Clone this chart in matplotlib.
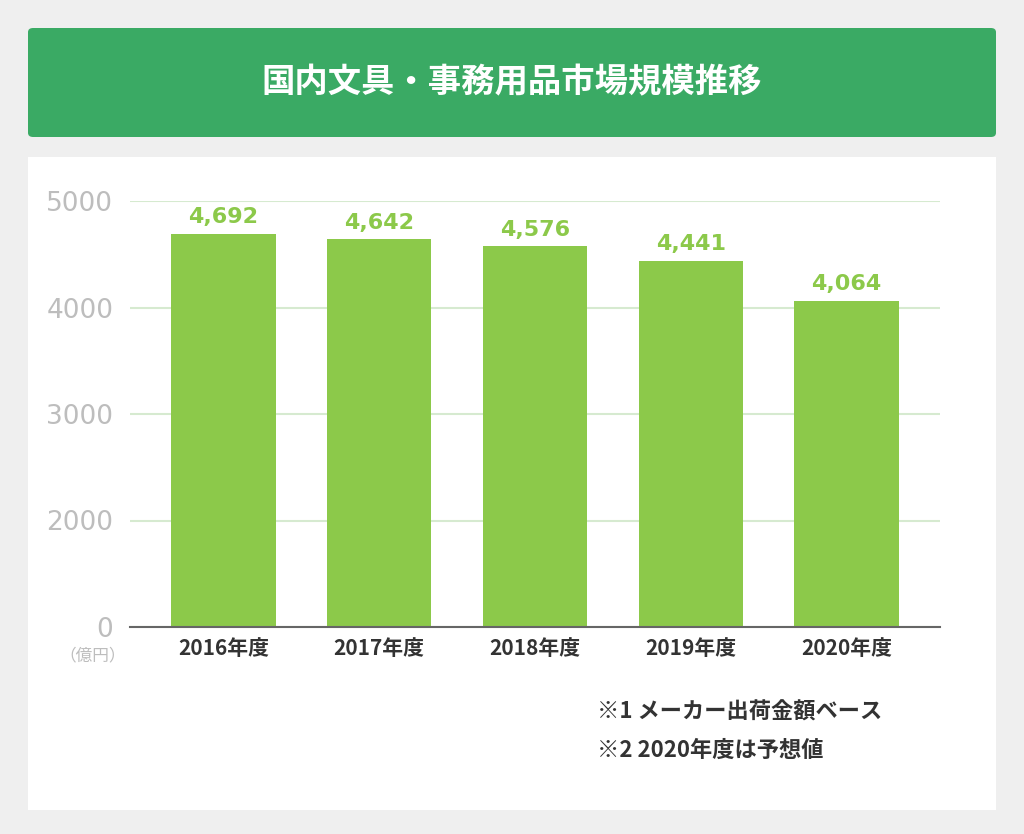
import matplotlib
matplotlib.use("Agg")
import matplotlib.pyplot as plt
from matplotlib.patches import FancyBboxPatch, Rectangle

plt.rcParams["font.family"] = ["Noto Sans CJK JP", "DejaVu Sans"]

title = "国内文具・事務用品市場規模推移"
categories = ["2016年度", "2017年度", "2018年度", "2019年度", "2020年度"]
values = [4692, 4642, 4576, 4441, 4064]
value_labels = ["4,692", "4,642", "4,576", "4,441", "4,064"]
yticks = [1000, 2000, 3000, 4000, 5000]
ytick_labels = ["0", "2000", "3000", "4000", "5000"]
notes = ["※1 メーカー出荷金額ベース", "※2 2020年度は予想値"]

W, H = 1024, 834
fig = plt.figure(figsize=(W/100, H/100), dpi=100)
fig.patch.set_facecolor("#efefef")

def fx(x): return x / W
def fy(y): return 1 - y / H

fig.patches.append(FancyBboxPatch((fx(28), fy(137)), fx(996-28), (137-28)/H,
    boxstyle="round,pad=0,rounding_size=0.005", transform=fig.transFigure,
    facecolor="#3aaa64", edgecolor="none", zorder=0))
fig.text(fx(512), fy(83), title, color="white", fontsize=24, fontweight="bold",
         ha="center", va="center")
fig.patches.append(Rectangle((fx(28), fy(810)), fx(996-28), (810-157)/H,
    transform=fig.transFigure, facecolor="white", edgecolor="none", zorder=0))

ax = fig.add_axes([fx(130), fy(627), fx(940-130), (627-201)/H])
ax.set_zorder(5)
ax.set_facecolor("white")
x = range(len(categories))
ax.bar(x, values, width=0.67, color="#8cc94a", zorder=3)
ax.set_ylim(1000, 5000)
ax.set_xlim(-0.6, 4.6)
ax.set_yticks(yticks)
ax.set_yticklabels(ytick_labels, color="#bdbdbd", fontsize=19, fontfamily="DejaVu Sans")
ax.yaxis.grid(True, color="#d6ead0", linewidth=1.5, zorder=0)
ax.tick_params(axis="y", length=0, pad=12)
ax.tick_params(axis="x", length=0, pad=8)
ax.set_xticks(list(x))
ax.set_xticklabels(categories, fontsize=15, fontweight="bold", color="#333333")
for s in ["top", "right", "left"]:
    ax.spines[s].set_visible(False)
ax.spines["bottom"].set_color("#666666")
ax.spines["bottom"].set_linewidth(1.5)
ax.spines["bottom"].set_zorder(4)
for xi, v, lab in zip(x, values, value_labels):
    ax.text(xi, v + 60, lab, ha="center", va="bottom", color="#8cc94a",
            fontsize=16, fontweight="bold", fontfamily="DejaVu Sans")

fig.text(fx(93), fy(656), "（億円）", color="#bdbdbd", fontsize=12, ha="center", va="center")
fig.text(fx(597), fy(712), notes[0], color="#333333", fontsize=16, fontweight="bold", va="center")
fig.text(fx(597), fy(750), notes[1], color="#333333", fontsize=16, fontweight="bold", va="center")

fig.savefig("out.png", dpi=100, facecolor=fig.get_facecolor())
